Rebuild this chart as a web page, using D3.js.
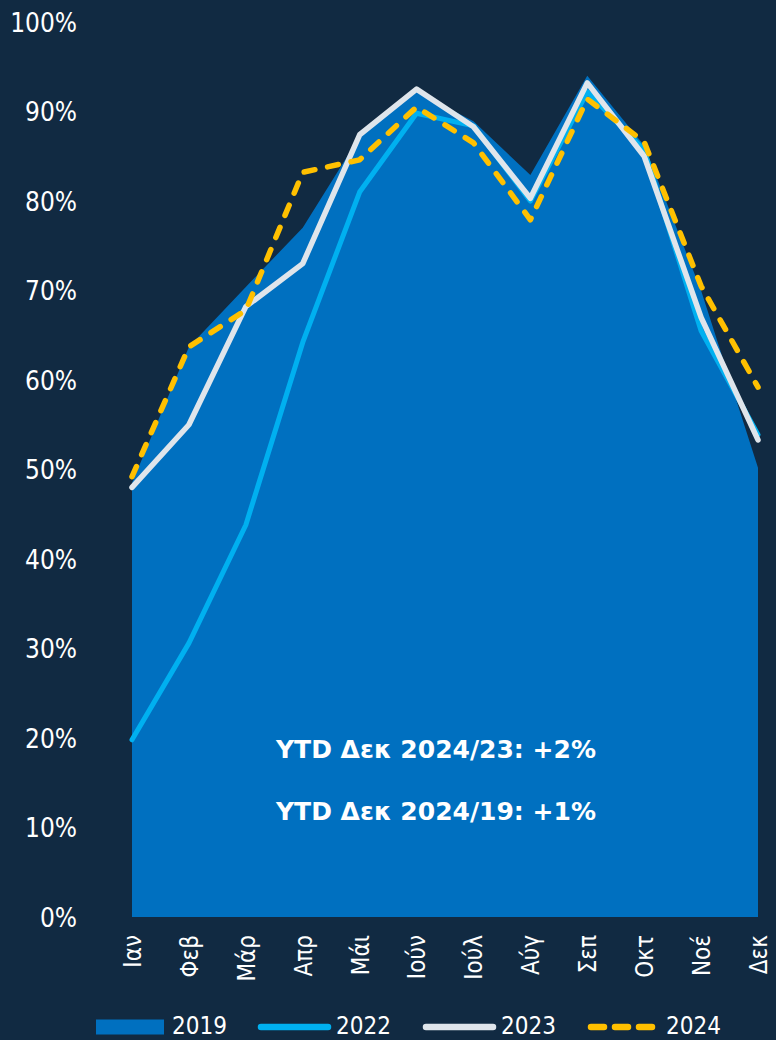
<!DOCTYPE html>
<html>
<head>
<meta charset="utf-8">
<script src="https://cdn.jsdelivr.net/npm/d3@7"></script>
<style>
  html, body { margin: 0; padding: 0; background: #112a42; }
  svg { display: block; }
</style>
</head>
<body>
<svg id="chart" width="776" height="1040"></svg>
<script>
// Monthly occupancy by year
const months = ["Ιαν", "Φεβ", "Μάρ", "Απρ", "Μάι", "Ιούν", "Ιούλ", "Αύγ", "Σεπ", "Οκτ", "Νοέ", "Δεκ"];
const values2019 = [0.485, 0.637, 0.704, 0.770, 0.872, 0.922, 0.889, 0.829, 0.940, 0.862, 0.700, 0.502];
const values2022 = [0.198, 0.306, 0.438, 0.642, 0.810, 0.898, 0.884, 0.800, 0.922, 0.857, 0.655, 0.539];
const values2023 = [0.480, 0.550, 0.682, 0.730, 0.874, 0.925, 0.883, 0.803, 0.932, 0.850, 0.670, 0.533];
const values2024 = [0.492, 0.637, 0.678, 0.832, 0.846, 0.905, 0.865, 0.779, 0.914, 0.866, 0.705, 0.592];
const yTicks = [0, 0.1, 0.2, 0.3, 0.4, 0.5, 0.6, 0.7, 0.8, 0.9, 1.0];
const notes = ["YTD Δεκ 2024/23: +2%", "YTD Δεκ 2024/19: +1%"];
const legendItems = [
  { label: "2019", kind: "area" },
  { label: "2022", kind: "line2022" },
  { label: "2023", kind: "line2023" },
  { label: "2024", kind: "line2024" }
];

const colors = {
  bg: "#112a42",
  area: "#0070c0",
  line2022: "#00b0f0",
  line2023: "#dfe5eb",
  line2024: "#ffc000",
  text: "#ffffff"
};
const fontMain = "'DejaVu Sans Condensed', 'DejaVu Sans', sans-serif";

const svg = d3.select("#chart");

const x = d3.scalePoint().domain(months).range([132, 758]);
const y = d3.scaleLinear().domain([0, 1]).range([917, 22]);

// 2019 as filled area
const area = d3.area()
  .x((d, i) => x(months[i]))
  .y0(y(0))
  .y1(d => y(d));

svg.append("path")
  .datum(values2019)
  .attr("d", area)
  .attr("fill", colors.area);

const line = d3.line()
  .x((d, i) => x(months[i]))
  .y(d => y(d));

svg.append("path")
  .datum(values2022)
  .attr("d", line)
  .attr("fill", "none")
  .attr("stroke", colors.line2022)
  .attr("stroke-width", 5)
  .attr("stroke-linecap", "round")
  .attr("stroke-linejoin", "round");

svg.append("path")
  .datum(values2023)
  .attr("d", line)
  .attr("fill", "none")
  .attr("stroke", colors.line2023)
  .attr("stroke-width", 5.5)
  .attr("stroke-linecap", "round")
  .attr("stroke-linejoin", "round");

svg.append("path")
  .datum(values2024)
  .attr("d", line)
  .attr("fill", "none")
  .attr("stroke", colors.line2024)
  .attr("stroke-width", 5.5)
  .attr("stroke-dasharray", "11,13")
  .attr("stroke-linecap", "round")
  .attr("stroke-linejoin", "round");

// Y axis
const yAxis = d3.axisLeft(y)
  .tickValues(yTicks)
  .tickFormat(d3.format(".0%"))
  .tickSize(0)
  .tickPadding(0);

const yG = svg.append("g")
  .attr("transform", "translate(77,0)")
  .call(yAxis);
yG.select(".domain").remove();
yG.selectAll("text")
  .attr("fill", colors.text)
  .attr("font-family", fontMain)
  .attr("font-size", 26)
  .attr("dy", "0.36em");

// X axis with vertical labels
const xAxis = d3.axisBottom(x).tickSize(0).tickPadding(0);
const xG = svg.append("g")
  .attr("transform", "translate(0,935)")
  .call(xAxis);
xG.select(".domain").remove();
xG.selectAll("text")
  .attr("fill", colors.text)
  .attr("font-family", fontMain)
  .attr("font-size", 24)
  .attr("text-anchor", "end")
  .attr("transform", "rotate(-90)")
  .attr("x", 0)
  .attr("y", 0)
  .attr("dy", "0.35em");

// YTD notes
svg.selectAll(".note")
  .data(notes)
  .join("text")
  .attr("class", "note")
  .attr("x", 276)
  .attr("y", (d, i) => 758 + i * 62)
  .attr("fill", colors.text)
  .attr("font-family", "'DejaVu Sans', sans-serif")
  .attr("font-weight", "bold")
  .attr("font-size", 25)
  .text(d => d);

// Legend
const legendX = [96, 258, 423, 588];
const legend = svg.append("g");
legendItems.forEach((item, i) => {
  const g = legend.append("g").attr("transform", `translate(${legendX[i]},1027)`);
  if (item.kind === "area") {
    g.append("rect").attr("x", 0).attr("y", -7.5).attr("width", 68).attr("height", 15).attr("fill", colors.area);
  } else {
    const seg = g.append("line")
      .attr("x1", 3).attr("x2", 70).attr("y1", 0).attr("y2", 0)
      .attr("stroke", colors[item.kind])
      .attr("stroke-width", 6.5)
      .attr("stroke-linecap", "round");
    if (item.kind === "line2024") {
      seg.attr("x1", 3).attr("x2", 64).attr("stroke-dasharray", "13,11");
    }
  }
  g.append("text")
    .attr("x", item.kind === "area" ? 76 : 78)
    .attr("y", 7)
    .attr("fill", colors.text)
    .attr("font-family", fontMain)
    .attr("font-size", 24)
    .text(item.label);
});
</script>
</body>
</html>
